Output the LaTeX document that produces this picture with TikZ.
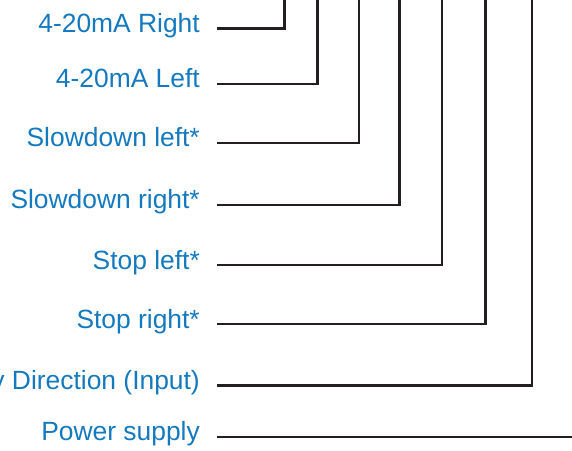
\documentclass[tikz,border=0pt]{standalone}
\usepackage{fontspec}
\setmainfont{Liberation Sans}
\usetikzlibrary{positioning}
\definecolor{labelblue}{HTML}{1479BE}
\definecolor{wireink}{HTML}{231F20}
\tikzset{
  lbl/.style={anchor=base east, inner sep=0pt, text=labelblue,
              font=\fontsize{26.4}{30}\selectfont},
  wire/.style={draw=wireink, line width=2.4pt, line join=miter},
}
\begin{document}
\begin{tikzpicture}[x=1pt, y=1pt]
  \useasboundingbox (0,0) rectangle (572,450);

  % ---- signal lines, each bent up to the top edge ------------------------
  \foreach \n/\y/\x/\t in {
      a/421.3/284.3/{4-20mA Right},
      b/366.0/317.5/{4-20mA Left},
      c/307.0/359.0/{Slowdown left*},
      d/245.0/399.5/{Slowdown right*},
      e/185.0/441.7/{Stop left*},
      f/126.0/485.3/{Stop right*},
      g/64.7/531.7/{y Direction (Input)}} {
    \node[lbl] (l\n) at (200,\y-4) {\t};
    \coordinate (s\n) at (217,\y);
    \coordinate (t\n) at (\x,450);
    \draw[wire] (s\n) -| (t\n);
  }

  % ---- power supply runs straight out ------------------------------------
  \node[lbl] (lh) at (200,13.3-4) {Power supply};
  \coordinate (sh) at (217,13.3);
  \coordinate (th) at (572,13.3);
  \draw[wire] (sh) -- (th);

\end{tikzpicture}
\end{document}
